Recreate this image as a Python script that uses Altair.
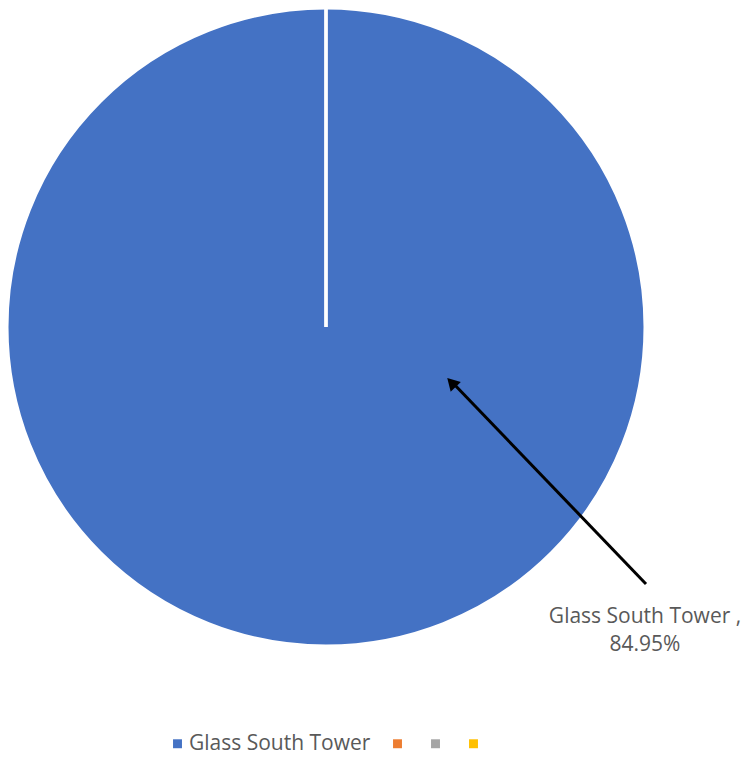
import altair as alt
import pandas as pd

categories = ["Glass South Tower", "Series 2", "Series 3", "Series 4"]
values = [84.95, 0, 0, 0]
colors = ["#4472C4", "#ED7D31", "#A5A5A5", "#FFC000"]
label_text = ["Glass South Tower ,", "84.95%"]

df = pd.DataFrame({"category": categories, "value": values, "order": [0, 1, 2, 3]})

pie = alt.Chart(df).mark_arc(stroke="white", strokeWidth=3).encode(
    theta=alt.Theta("value:Q", stack=True),
    order=alt.Order("order:Q"),
    color=alt.Color(
        "category:N",
        sort=categories,
        scale=alt.Scale(domain=categories, range=colors),
        legend=alt.Legend(
            title=None,
            orient="none",
            legendX=159,
            legendY=725,
            direction="horizontal",
            symbolType="square",
            symbolSize=80,
            symbolStrokeWidth=0,
            labelFontSize=21,
            labelFont="Open Sans",
            labelColor="#595959",
            labelOffset=1,
            labelLimit=400,
            columnPadding=16,
            padding=0,
            labelExpr="datum.label == 'Glass South Tower' ? datum.label : ''",
        ),
    ),
    x=alt.value(318),
    y=alt.value(319),
    radius=alt.value(319),
)

arrow_line = alt.Chart(df.head(1)).mark_rule(color="black", strokeWidth=3).encode(
    x=alt.value(638), y=alt.value(576), x2=alt.value(443), y2=alt.value(373)
)

arrow_head = alt.Chart(df.head(1)).mark_point(
    shape="triangle-up", filled=True, color="black", size=200, angle=316, opacity=1
).encode(x=alt.value(443.5), y=alt.value(374.5))

label = alt.Chart(df.head(1)).mark_text(
    font="Open Sans", fontSize=21, color="#595959", align="center", baseline="middle",
    lineHeight=28,
).encode(x=alt.value(637), y=alt.value(609), text=alt.value(label_text))

chart = alt.layer(pie, arrow_line, arrow_head, label).properties(
    width=733, height=748, padding=0, autosize=alt.AutoSizeParams(type="none")
).configure_view(stroke=None)

chart.save("out.html", embed_options={"renderer": "svg", "actions": False})
